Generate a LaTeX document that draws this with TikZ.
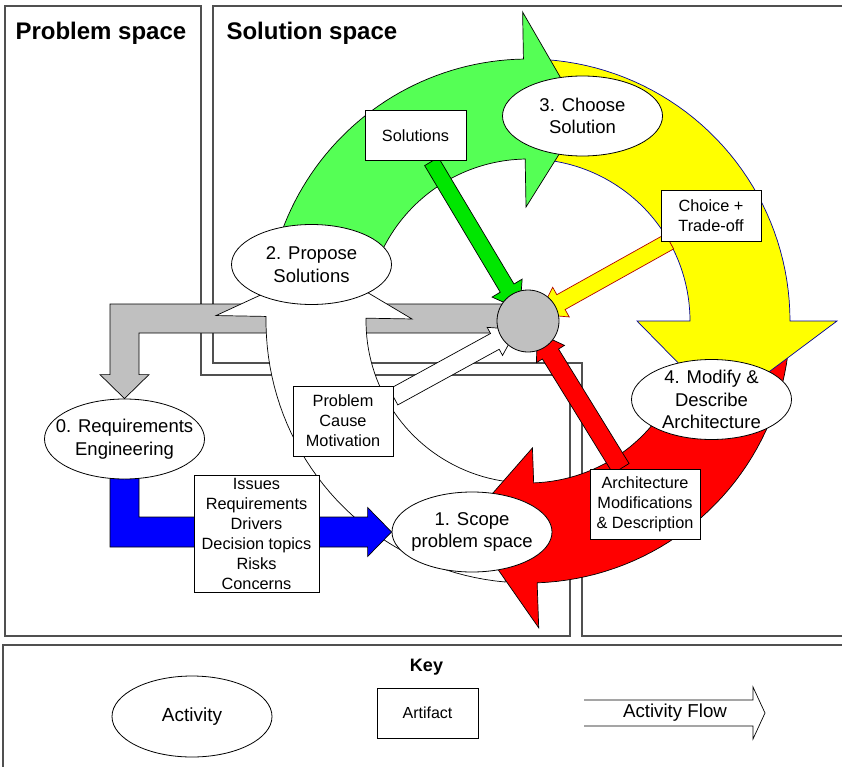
\documentclass[tikz,border=0pt]{standalone}
\usepackage{fontspec}
\setmainfont{Liberation Sans}
\usetikzlibrary{calc,shapes.geometric}
\usepackage{xcolor}
\definecolor{ringGreen}{RGB}{85,255,85}
\definecolor{arrowGreen}{RGB}{0,230,0}
\definecolor{ringYellow}{RGB}{255,255,0}
\definecolor{ringRed}{RGB}{255,0,0}
\definecolor{flowBlue}{RGB}{0,0,255}
\definecolor{hubGray}{RGB}{192,192,192}
\definecolor{frameGray}{RGB}{80,80,80}
\pgfdeclarelayer{back}
\pgfsetlayers{back,main}

\tikzset{
  activity/.style={ellipse, draw, line width=0.8pt, fill=white, minimum width=160pt, minimum height=80pt,
    inner sep=-15pt, align=center, font=\fontsize{18.5}{22.5}\selectfont},
  artifact/.style={rectangle, draw, line width=1pt, fill=white, inner sep=1pt, align=center,
    font=\fontsize{16.3}{20}\selectfont},
  frame/.style={draw=frameGray, line width=1.4pt},
  ringedge/.style={line width=0.7pt},
}

\begin{document}
\begin{tikzpicture}[x=1pt, y=-1pt]
    \newcommand\ringin{162}
    \newcommand\ringout{262}
    \newcommand\ringmid{212}
    % curved arrow: style, tail angle, base angle, tip angle, inner barb, outer barb
    \newcommand\ringarrow[6]{%
      \draw[#1] plot[domain=#2:#3, samples=40] (\x:\ringout) -- (#3:#6) -- (#4:\ringmid)
        -- (#3:#5) -- plot[domain=#3:#2, samples=40] (\x:\ringin) -- cycle;}
    % straight arrow: style, tail, tip, half shaft, half head, head length
    \newcommand\blockarrow[6]{%
      \coordinate (ba-t) at (#2);
      \coordinate (ba-h) at (#3);
      \coordinate (ba-b) at ($(ba-h)!#6pt!(ba-t)$);
      \draw[#1] ($(ba-t)!#4pt!90:(ba-h)$) -- ($(ba-b)!#4pt!-90:(ba-t)$) -- ($(ba-b)!#5pt!-90:(ba-t)$)
        -- (ba-h) -- ($(ba-b)!#5pt!90:(ba-t)$) -- ($(ba-b)!#4pt!90:(ba-t)$) -- ($(ba-t)!#4pt!-90:(ba-h)$) -- cycle;}

    \useasboundingbox (0,0) rectangle (842,767);

    % titles
    \node[anchor=base west, font=\bfseries\fontsize{24}{28}\selectfont] (ptitle) at (12,40) {Problem space};
    \node[anchor=base west, font=\bfseries\fontsize{24}{28}\selectfont] (stitle) at (223,40) {Solution space};

    % activities
    \node[activity] (req) at (124.5,439) {0. Requirements\\Engineering};
    \node[activity] (scope) at (472,532) {1. Scope\\problem space};
    \node[activity] (propose) at (311.5,264.5) {2. Propose\\Solutions};
    \node[activity] (choose) at (582.5,116) {3. Choose\\Solution};
    \node[activity] (modify) at (711.5,399.5) {4. Modify \&\\Describe\\Architecture};

    % artifacts
    \node[artifact, minimum width=101pt, minimum height=50pt] (sol) at (415.5,136) {Solutions};
    \node[artifact, minimum width=100pt, minimum height=50pt] (choice) at (711,216) {Choice +\\Trade-off};
    \node[artifact, minimum width=100pt, minimum height=70pt] (prob) at (343,421) {Problem\\Cause\\Motivation};
    \node[artifact, minimum width=125pt, minimum height=117pt] (issues) at (256.5,533.5)
      {Issues\\Requirements\\Drivers\\Decision topics\\Risks\\Concerns};
    \node[artifact, minimum width=110pt, minimum height=70pt] (arch) at (645,504)
      {Architecture\\Modifications\\\& Description};
    \node[circle, draw, line width=0.8pt, fill=hubGray, minimum size=62pt, inner sep=0pt] (hub) at (528,321) {};

    % key
    \node[anchor=base, font=\bfseries\fontsize{18}{22}\selectfont] (key) at (426.5,671) {Key};
    \node[activity, minimum height=81pt, font=\fontsize{19}{23}\selectfont] (keyact) at (192,716.5) {Activity};
    \node[artifact, minimum width=101pt, minimum height=50pt, font=\fontsize{16}{20}\selectfont] (keyart) at (427.5,713) {Artifact};
    \node[font=\fontsize{18.7}{22}\selectfont] (keyflow) at (675,713) {Activity Flow};

    \begin{pgfonlayer}{back}
    % frames
    \draw[frame] (5,6) -- (201,6) -- (201,375) -- (570,375) -- (570,636) -- (5,636) -- cycle;
    \draw[frame] (213,6) -- (850,6) -- (850,636) -- (582,636) -- (582,363) -- (213,363) -- cycle;
    \draw[frame] (3,645) rectangle (850,775);

    % draw gray arrow back to requirements
    \draw[fill=hubGray, ringedge] ($(hub)+(0,-17)$) -| ($(req.north)+(-14.5,-24)$) -- ++(-10,0) -- (req.north)
      -- ($(req.north)+(24.5,-24)$) -- ++(-10,0) |- ($(hub)+(0,12)$) -- cycle;

    % draw cycle
    \begin{scope}[shift={(hub.center)}]
      \ringarrow{fill=white, ringedge}{95}{181}{195}{116}{312}
      \ringarrow{fill=ringRed, ringedge}{3}{88}{107}{127}{307}
      \ringarrow{fill=ringYellow, draw=blue!60!black, ringedge}{-86}{0}{24}{109}{309}
      \ringarrow{fill=ringGreen, ringedge}{-160}{-91}{-75}{114}{309}
    \end{scope}

    % draw blue arrow to scope
    \draw[fill=flowBlue, ringedge] ($(req.south)+(-14.5,-5)$) |- ($(scope.west)+(-24,15)$) -- ++(0,9.5) -- (scope.west)
      -- ($(scope.west)+(-24,-24.5)$) -- ++(0,9.5) -| ($(req.south)+(14.5,-5)$) -- cycle;

    % draw arrows into hub
    \blockarrow{fill=arrowGreen, ringedge}{[xshift=16pt]sol.south}{$(hub)!14pt!(sol.south)$}{8}{17.5}{25}
    \blockarrow{fill=ringYellow, draw=red!70!black, ringedge}{[xshift=9pt]choice.south west}{$(hub)!13pt!(choice.south west)$}{8.5}{17}{25}
    \blockarrow{fill=ringRed, ringedge}{[xshift=-24pt]arch.north}{$(hub)!15pt!(arch.north)$}{9.5}{16.5}{25}
    \blockarrow{fill=white, ringedge}{[yshift=24pt]prob.east}{$(hub)!14pt!(prob.east)$}{9}{16}{25}

    % key flow arrow
    \begin{scope}[shift={(keyflow.center)}]
      \draw[ringedge] (-91,-13) -- (78,-13) -- (78,-26) -- (90,0) -- (78,26) -- (78,13) -- (-91,13);
    \end{scope}
    \end{pgfonlayer}
\end{tikzpicture}
\end{document}
